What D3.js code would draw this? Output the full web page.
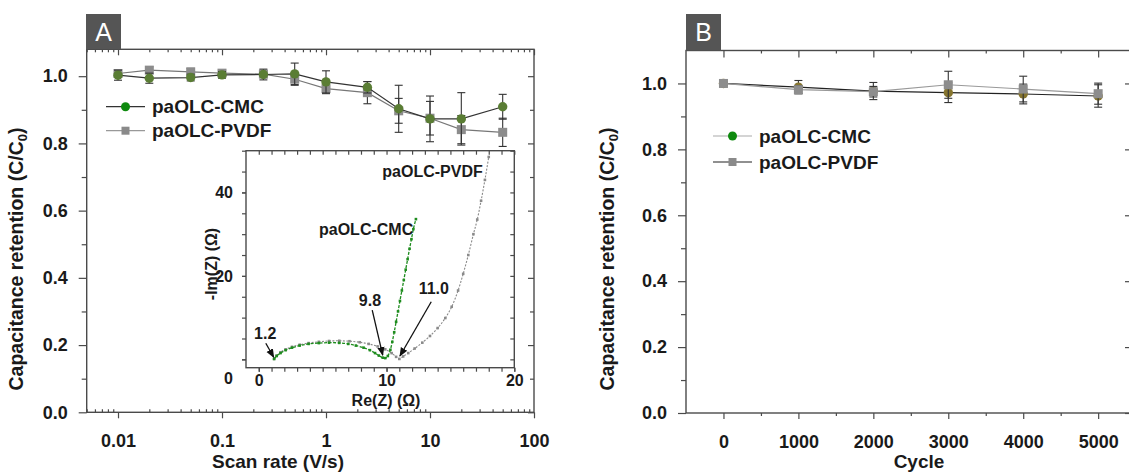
<!DOCTYPE html>
<html>
<head>
<meta charset="utf-8">
<script src="https://cdn.jsdelivr.net/npm/d3@7"></script>
<style>
  body { margin: 0; background: #fff; }
  text { font-family: "Liberation Sans", Arial, sans-serif; font-weight: bold; fill: #1a1a1a; }
</style>
</head>
<body>
<svg id="chart" width="1129" height="474"></svg>
<script>
// ---- panel A : retention vs scan rate ----
const scanRate = [0.01, 0.02, 0.05, 0.1, 0.25, 0.5, 1, 2.5, 5, 10, 20, 50];
const cmcRetA  = [1.003, 0.994, 0.996, 1.004, 1.005, 1.007, 0.983, 0.967, 0.903, 0.873, 0.873, 0.909];
const cmcErrA  = [0.015, 0.015, 0.010, 0.010, 0.016, 0.032, 0.033, 0.017, 0.070, 0.068, 0.078, 0.037];
const pvdfRetA = [1.008, 1.018, 1.013, 1.009, 1.006, 0.991, 0.963, 0.951, 0.897, 0.875, 0.841, 0.833];
const pvdfErrA = [0.010, 0.010, 0.010, 0.010, 0.010, 0.018, 0.015, 0.033, 0.037, 0.050, 0.042, 0.042];
const xTicksA = [0.01, 0.1, 1, 10, 100];
const yTicks = [0, 0.2, 0.4, 0.6, 0.8, 1.0];
const yMinor = [0.1, 0.3, 0.5, 0.7, 0.9];

// ---- inset : Nyquist plot ----
const reCmc  = [1.2, 1.4, 1.7, 2.1, 2.6, 3.2, 3.9, 4.7, 5.5, 6.3, 7.0, 7.6, 8.2, 8.7, 9.1, 9.4, 9.7, 9.9, 10.1, 10.3, 10.45, 10.6, 10.75, 10.9, 11.05, 11.2, 11.35, 11.5, 11.65, 11.8, 11.95, 12.1, 12.3];
const imCmc  = [0.1, 0.8, 1.5, 2.2, 2.8, 3.3, 3.7, 3.9, 4.0, 3.95, 3.7, 3.3, 2.8, 2.2, 1.5, 0.9, 0.4, 0.3, 0.8, 2.3, 4.2, 6.5, 9.0, 11.5, 14.0, 16.5, 19.0, 21.5, 24.0, 26.5, 28.8, 31.2, 33.6];
const rePvdf = [1.2, 1.4, 1.7, 2.1, 2.6, 3.2, 3.9, 4.7, 5.5, 6.3, 7.1, 7.9, 8.6, 9.3, 9.9, 10.4, 10.75, 11.0, 11.3, 11.7, 12.2, 12.8, 13.4, 14.0, 14.6, 15.1, 15.6, 16.0, 16.4, 16.8, 17.1, 17.4, 17.7, 18.0];
const imPvdf = [0.1, 0.9, 1.7, 2.4, 3.0, 3.5, 3.9, 4.2, 4.4, 4.45, 4.35, 4.1, 3.7, 3.1, 2.4, 1.5, 0.6, 0.1, 0.7, 1.5, 2.6, 4.0, 5.6, 7.5, 9.9, 12.6, 16.5, 20.5, 25.0, 30.0, 33.5, 38.0, 43.0, 48.5];
const insetXTicks = [0, 10, 20];
const insetYTicks = [0, 20, 40];
// annotation arrows (data coords of the inset)
const annotText = ["1.2", "9.8", "11.0"];
const annotLabelRe = [0.5, 8.7, 13.7];
const annotLabelIm = [6.1, 14.2, 16.9];
const arrowFromRe = [0.55, 8.88, 13.5];
const arrowFromIm = [3.85, 11.8, 13.8];
const arrowToRe = [1.17, 9.7, 11.05];
const arrowToIm = [0.5, 1.0, 0.8];
const curveNames = ["paOLC-CMC", "paOLC-PVDF"];
const curveNameRe = [8.4, 13.6];
const curveNameIm = [31.2, 45];

// ---- panel B : retention vs cycle ----
const cycles   = [0, 1000, 2000, 3000, 4000, 5000];
const cmcRetB  = [1.0, 0.989, 0.977, 0.972, 0.968, 0.962];
const cmcErrB  = [0, 0.020, 0.026, 0.030, 0.030, 0.034];
const pvdfRetB = [1.0, 0.981, 0.975, 0.996, 0.983, 0.969];
const pvdfErrB = [0, 0.012, 0.016, 0.041, 0.039, 0.032];
const xTicksB = [0, 1000, 2000, 3000, 4000, 5000];
const xMinorB = [500, 1500, 2500, 3500, 4500];

const svg = d3.select("#chart");
const frameColor = "#4a4a4a";

svg.append("defs").append("marker")
  .attr("id", "arrow")
  .attr("viewBox", "0 0 10 10")
  .attr("refX", 9).attr("refY", 5)
  .attr("markerWidth", 7).attr("markerHeight", 7)
  .attr("orient", "auto")
  .append("path").attr("d", "M0,1 L10,5 L0,9 Z").attr("fill", "#111");

// draw an axis without its domain line
function drawAxis(gen, tx, ty, size) {
  const a = svg.append("g").attr("transform", `translate(${tx},${ty})`).call(gen);
  a.attr("font-family", null).attr("font-size", null);
  a.select(".domain").remove();
  a.selectAll(".tick line").attr("stroke", frameColor).attr("stroke-width", 1.2);
  a.selectAll(".tick text").style("font-size", (size || 18) + "px");
  return a;
}

function frame(x, y) {
  const [x0, x1] = x.range(), [y0, y1] = y.range();
  svg.append("rect")
    .attr("x", x0).attr("y", y1)
    .attr("width", x1 - x0).attr("height", y0 - y1)
    .attr("fill", "none").attr("stroke", frameColor).attr("stroke-width", 1.4);
}

function panelTag(label, x, y) {
  svg.append("rect").attr("x", x).attr("y", 14).attr("width", 35).attr("height", y - 14).attr("fill", "#555");
  svg.append("text").attr("x", x + 17.5).attr("y", 41).attr("text-anchor", "middle")
    .style("font-size", "25px").style("font-weight", "normal").style("fill", "#fff").text(label);
}

function yTitle(x, cy) {
  const t = svg.append("text")
    .attr("transform", `translate(${x},${cy}) rotate(-90)`)
    .attr("text-anchor", "middle").style("font-size", "19.5px");
  t.append("tspan").text("Capacitance retention (C/C");
  t.append("tspan").attr("dy", 4).style("font-size", "13px").text("0");
  t.append("tspan").attr("dy", -4).text(")");
}

function series(x, y, xs, ys, es, opt) {
  const pts = xs.map((d, i) => ({x: d, y: ys[i], e: es[i]}));
  svg.append("path").datum(pts)
    .attr("fill", "none").attr("stroke", opt.line).attr("stroke-width", 1.2)
    .attr("d", d3.line().x(d => x(d.x)).y(d => y(d.y)));
  const eb = svg.append("g").attr("stroke", "#333").attr("stroke-width", 1.1);
  pts.filter(d => d.e > 0).forEach(d => {
    const cx = x(d.x);
    eb.append("line").attr("x1", cx).attr("x2", cx).attr("y1", y(d.y - d.e)).attr("y2", y(d.y + d.e));
    [d.y - d.e, d.y + d.e].forEach(v => {
      eb.append("line").attr("x1", cx - 4).attr("x2", cx + 4).attr("y1", y(v)).attr("y2", y(v));
    });
  });
  if (opt.shape === "circle") {
    svg.append("g").selectAll("circle").data(pts).join("circle")
      .attr("cx", d => x(d.x)).attr("cy", d => y(d.y)).attr("r", 4.7).attr("fill", opt.fill);
  } else {
    svg.append("g").selectAll("rect").data(pts).join("rect")
      .attr("x", d => x(d.x) - 4.5).attr("y", d => y(d.y) - 4.5)
      .attr("width", 9).attr("height", 9).attr("fill", opt.fill);
  }
}

function legend(x0, rows) {
  rows.forEach(r => {
    svg.append("line").attr("x1", x0).attr("x2", x0 + 39).attr("y1", r.y).attr("y2", r.y)
      .attr("stroke", r.line).attr("stroke-width", 1.2);
    if (r.shape === "circle") {
      svg.append("circle").attr("cx", x0 + 19.5).attr("cy", r.y).attr("r", 4.5).attr("fill", r.fill);
    } else {
      svg.append("rect").attr("x", x0 + 15.5).attr("y", r.y - 4).attr("width", 8).attr("height", 8).attr("fill", r.fill);
    }
    svg.append("text").attr("x", x0 + 46).attr("y", r.y).attr("dy", "0.35em")
      .style("font-size", "19px").text(r.name);
  });
}

// ================= Panel A =================
const xA = d3.scaleLog().domain([0.005, 100]).range([86.7, 534]);
const yA = d3.scaleLinear().domain([0, 1.08]).range([412.3, 49.3]);
const xMinorA = xA.ticks().filter(d => !xTicksA.includes(d));

drawAxis(d3.axisBottom(xA).tickValues(xTicksA).tickSize(6).tickPadding(16).tickFormat(d3.format("~g")), 0, 412.3);
drawAxis(d3.axisBottom(xA).tickValues(xMinorA).tickSize(-3).tickFormat(""), 0, 412.3);
drawAxis(d3.axisTop(xA).tickValues(xTicksA).tickSize(-6).tickFormat(""), 0, 49.3);
drawAxis(d3.axisTop(xA).tickValues(xMinorA).tickSize(-3).tickFormat(""), 0, 49.3);
drawAxis(d3.axisLeft(yA).tickValues(yTicks).tickSize(8).tickPadding(11).tickFormat(d3.format(".1f")), 86.7, 0);
drawAxis(d3.axisLeft(yA).tickValues(yMinor).tickSize(5).tickFormat(""), 86.7, 0);
drawAxis(d3.axisRight(yA).tickValues(yTicks).tickSize(-6).tickFormat(""), 534, 0);
drawAxis(d3.axisRight(yA).tickValues(yMinor).tickSize(-4).tickFormat(""), 534, 0);
frame(xA, yA);
panelTag("A", 86, 49.3);

series(xA, yA, scanRate, pvdfRetA, pvdfErrA, {line: "#777", fill: "#8c8c8c", shape: "rect"});
series(xA, yA, scanRate, cmcRetA, cmcErrA, {line: "#333", fill: "#5a7d34", shape: "circle"});

legend(106, [
  {y: 106.7, name: "paOLC-CMC", line: "#333", fill: "#0e8a0e", shape: "circle"},
  {y: 130.7, name: "paOLC-PVDF", line: "#999", fill: "#8a8a8a", shape: "rect"}
]);

yTitle(23, 259);
svg.append("text").attr("x", 278).attr("y", 468).attr("text-anchor", "middle")
  .style("font-size", "19px").text("Scan rate (V/s)");

// ---- inset ----
const xI = d3.scaleLinear().domain([-1, 20]).range([246, 514.3]);
const yI = d3.scaleLinear().domain([-2, 50]).range([367.7, 150.7]);
const everyOne = d3.range(0, 21);
const everyFive = d3.range(0, 51, 5);

drawAxis(d3.axisBottom(xI).tickValues(insetXTicks).tickSize(4).tickPadding(3).tickFormat(d3.format("d")), 0, 367.7, 16);
drawAxis(d3.axisBottom(xI).tickValues(everyOne).tickSize(4).tickFormat(""), 0, 367.7);
drawAxis(d3.axisTop(xI).tickValues(everyOne).tickSize(-4).tickFormat(""), 0, 150.7);
const insetLeft = drawAxis(d3.axisLeft(yI).tickValues(insetYTicks).tickSize(4).tickPadding(9).tickFormat(d3.format("d")), 246, 0, 16);
insetLeft.selectAll(".tick text").filter(d => d === 0).attr("dy", "1.5em");
drawAxis(d3.axisLeft(yI).tickValues(everyFive).tickSize(4).tickFormat(""), 246, 0);
drawAxis(d3.axisRight(yI).tickValues(everyFive).tickSize(-4).tickFormat(""), 514.3, 0);
frame(xI, yI);

function nyquist(res, ims, color, dash, w) {
  const pts = res.map((d, i) => [d, ims[i]]);
  svg.append("path").datum(pts)
    .attr("fill", "none").attr("stroke", color).attr("stroke-width", w)
    .attr("stroke-dasharray", dash)
    .attr("d", d3.line().curve(d3.curveMonotoneX).x(d => xI(d[0])).y(d => yI(d[1])));
  svg.append("g").selectAll("rect").data(pts).join("rect")
    .attr("x", d => xI(d[0]) - 1.3).attr("y", d => yI(d[1]) - 1.3)
    .attr("width", 2.6).attr("height", 2.6).attr("fill", color);
}
nyquist(rePvdf, imPvdf, "#8a8a8a", "2,1.5", 1.1);
nyquist(reCmc, imCmc, "#1e8c1e", "3,1.5", 1.3);

curveNames.forEach((n, i) => {
  svg.append("text").attr("x", xI(curveNameRe[i])).attr("y", yI(curveNameIm[i])).attr("dy", "0.35em")
    .attr("text-anchor", "middle").style("font-size", "16px").text(n);
});
annotText.forEach((t, i) => {
  svg.append("line")
    .attr("x1", xI(arrowFromRe[i])).attr("y1", yI(arrowFromIm[i]))
    .attr("x2", xI(arrowToRe[i])).attr("y2", yI(arrowToIm[i]))
    .attr("stroke", "#111").attr("stroke-width", 1.3).attr("marker-end", "url(#arrow)");
  svg.append("text").attr("x", xI(annotLabelRe[i])).attr("y", yI(annotLabelIm[i])).attr("dy", "0.35em")
    .attr("text-anchor", "middle").style("font-size", "16px").text(t);
});

svg.append("text").attr("x", 386).attr("y", 406).attr("text-anchor", "middle")
  .style("font-size", "16px").text("Re(Z) (\u03A9)");
svg.append("text").attr("transform", `translate(217,264) rotate(-90)`).attr("text-anchor", "middle")
  .style("font-size", "16px").text("-Im(Z) (\u03A9)");

// ================= Panel B =================
const xB = d3.scaleLinear().domain([-500, 5425]).range([686, 1130]);
const yB = d3.scaleLinear().domain([0, 1.1]).range([413, 50.5]);

drawAxis(d3.axisBottom(xB).tickValues(xTicksB).tickSize(6).tickPadding(16).tickFormat(d3.format("d")), 0, 413);
drawAxis(d3.axisBottom(xB).tickValues(xMinorB).tickSize(3).tickFormat(""), 0, 413);
drawAxis(d3.axisTop(xB).tickValues(xTicksB).tickSize(-7).tickFormat(""), 0, 50.5);
drawAxis(d3.axisTop(xB).tickValues(xMinorB).tickSize(-3).tickFormat(""), 0, 50.5);
drawAxis(d3.axisLeft(yB).tickValues(yTicks).tickSize(8).tickPadding(11).tickFormat(d3.format(".1f")), 686, 0);
drawAxis(d3.axisLeft(yB).tickValues(yMinor).tickSize(5).tickFormat(""), 686, 0);
drawAxis(d3.axisRight(yB).tickValues(yTicks).tickSize(-5).tickFormat(""), 1130, 0);
frame(xB, yB);
panelTag("B", 686, 50.5);

series(xB, yB, cycles, cmcRetB, cmcErrB, {line: "#222", fill: "#86752f", shape: "circle"});
series(xB, yB, cycles, pvdfRetB, pvdfErrB, {line: "#999", fill: "#8d8d8d", shape: "rect"});

legend(713, [
  {y: 136, name: "paOLC-CMC", line: "#aaa", fill: "#0e8a0e", shape: "circle"},
  {y: 162, name: "paOLC-PVDF", line: "#222", fill: "#8a8a8a", shape: "rect"}
]);

yTitle(614, 259);
svg.append("text").attr("x", 919).attr("y", 468).attr("text-anchor", "middle")
  .style("font-size", "19px").text("Cycle");
</script>
</body>
</html>
